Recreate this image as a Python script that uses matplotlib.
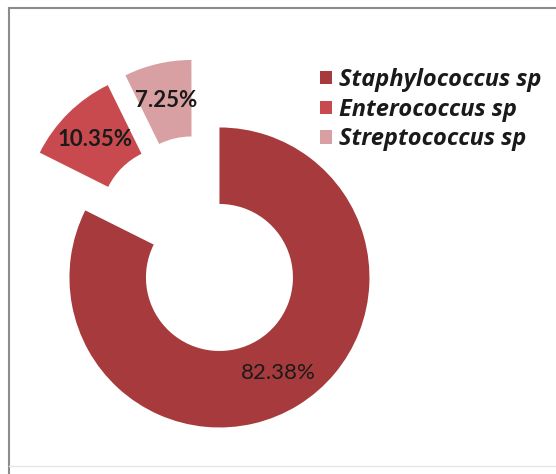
import matplotlib.pyplot as plt
from matplotlib.lines import Line2D

# share of isolates (%)
species = ["Staphylococcus sp", "Enterococcus sp", "Streptococcus sp"]
shares = [82.38, 10.35, 7.25]
colors = ["#A63A3C", "#C94A4E", "#D8A0A3"]

W, H = 556, 474


def main():
    plt.rcParams["font.family"] = ["Lato", "DejaVu Sans"]
    fig = plt.figure(figsize=(W / 100, H / 100), dpi=100)
    ax = fig.add_axes([0, 0, 1, 1])

    # donut, all slices pulled out, drawn in pixel-like data units
    R = 150
    wedges, _, autotexts = ax.pie(
        [s / 100 for s in shares],
        normalize=False,
        colors=colors,
        startangle=90,
        counterclock=False,
        explode=[37] * 3,
        radius=R,
        center=(200, H - 246),
        autopct="%.2f%%",
        pctdistance=0.75,
        wedgeprops=dict(width=R * 0.51, linewidth=0),
        textprops=dict(fontsize=16, color="#1a1a1a",
                       family=["Lato", "DejaVu Sans"]),
        frame=True,
    )
    for t in autotexts[1:]:
        t.set_fontweight("bold")

    ax.set_xlim(0, W)
    ax.set_ylim(0, H)
    ax.set_aspect("equal")
    ax.axis("off")

    leg = fig.legend(
        wedges, species,
        loc="upper left",
        bbox_to_anchor=(320 / W, 1 - 68 / H),
        frameon=False,
        handlelength=0.5, handleheight=0.5, handletextpad=0.3,
        labelspacing=0.24, borderpad=0, borderaxespad=0,
        prop=dict(family=["Open Sans", "DejaVu Sans"], style="italic",
                  weight="bold", size=17),
    )
    for t in leg.get_texts():
        t.set_color("#1a1a1a")

    # chart area border
    def px_line(xs, ys, c, lw):
        fig.add_artist(Line2D([x / W for x in xs], [1 - y / H for y in ys],
                              color=c, lw=lw, transform=fig.transFigure))

    px_line([9, 9], [8, 474], "#8c8c8c", 1.5)
    px_line([9, 556], [8, 8], "#8c8c8c", 1.5)
    px_line([9, 556], [466, 466], "#e6e6e6", 1.0)

    fig.savefig("out.png", dpi=100)


if __name__ == "__main__":
    main()
